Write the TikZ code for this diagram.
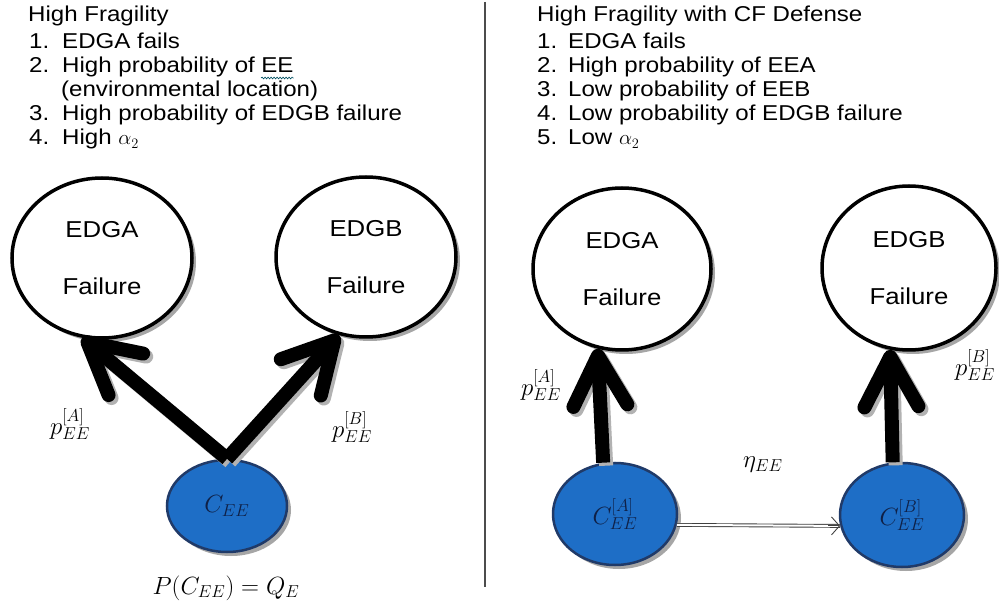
\documentclass[tikz,border=0pt]{standalone}
\usepackage{fontspec}
\setmainfont[FakeStretch=1.12]{Liberation Sans}
\usetikzlibrary{arrows.meta,shapes.geometric,shadows,decorations.pathmorphing}
\definecolor{cblue}{RGB}{30,110,198}
\definecolor{cnavy}{RGB}{32,58,104}
\definecolor{ctxt}{RGB}{15,32,70}
\begin{document}
\begin{tikzpicture}[x=1pt,y=-1pt,
  listtxt/.style={anchor=base west, inner sep=0pt, font=\fontsize{21.5}{24}\selectfont},
  failnode/.style={ellipse, draw=black, line width=3.5pt, fill=white, inner sep=0pt,
    align=center, font=\fontsize{23}{57}\selectfont,
    drop shadow={shadow xshift=4pt, shadow yshift=-4pt, fill=black!35, opacity=1}},
  causenode/.style={ellipse, draw=cnavy, line width=2.5pt, fill=cblue, inner sep=0pt,
    text=ctxt, font=\fontsize{23}{26}\selectfont,
    drop shadow={shadow xshift=4pt, shadow yshift=-4pt, fill=black!35, opacity=1}},
  bigarrow/.style={line width=14pt, -{Straight Barb[length=50pt, width=54pt, line width=14pt, round]}},
  arrowshade/.style={bigarrow, draw=black!30, transform canvas={shift={(3pt,-3pt)}}},
  mathlbl/.style={inner sep=0pt, font=\fontsize{25}{28}\selectfont},
  thinlink/.style={line width=0.9pt, draw=black!75},
]
\useasboundingbox (0,0) rectangle (999,609);
\fill[white] (0,0) rectangle (999,609);

% separator
\draw[line width=1.6pt, black!70] (485,2) -- (485,587);

% ---------- left list ----------
\node[listtxt] (lt) at (28,22) {High Fragility};
\node[listtxt] (ln1) at (29,49) {1.};
\node[listtxt] (li1) at (62,49) {EDGA fails};
\node[listtxt] (ln2) at (29,73) {2.};
\node[listtxt] (li2) at (62,73) {High probability of\kern6pt};
\node[listtxt] (lee) at (li2.base east) {EE};
\draw[green!45!blue!70!black, line width=0.6pt, decorate,
  decoration={snake, amplitude=0.9pt, segment length=3pt}]
  ([yshift=-5pt]lee.base west) -- ([yshift=-5pt]lee.base east);
\node[listtxt] (li2b) at (61,97) {(environmental location)};
\node[listtxt] (ln3) at (29,121) {3.};
\node[listtxt] (li3) at (62,121) {High probability of EDGB failure};
\node[listtxt] (ln4) at (29,145) {4.};
\node[listtxt] (li4) at (62,145) {High $\alpha_2$};

% ---------- right list ----------
\node[listtxt] (rt) at (537,22) {High Fragility with CF Defense};
\node[listtxt] (rn1) at (537,49) {1.};
\node[listtxt] (ri1) at (568,49) {EDGA fails};
\node[listtxt] (rn2) at (537,73) {2.};
\node[listtxt] (ri2) at (568,73) {High probability of EEA};
\node[listtxt] (rn3) at (537,97) {3.};
\node[listtxt] (ri3) at (568,97) {Low probability of EEB};
\node[listtxt] (rn4) at (537,121) {4.};
\node[listtxt] (ri4) at (568,121) {Low probability of EDGB failure};
\node[listtxt] (rn5) at (537,145) {5.};
\node[listtxt] (ri5) at (568,145) {Low $\alpha_2$};

% ---------- left diagram ----------
\node[failnode, minimum width=180pt, minimum height=160pt] (fa) at (102,258) {EDGA\\Failure};
\node[failnode, minimum width=180pt, minimum height=160pt] (fb) at (366,257) {EDGB\\Failure};
\node[causenode, minimum width=120pt, minimum height=92pt] (ce) at (227,506) {$C_{EE}$};

\draw[arrowshade] (ce.north) -- (fa.256);
\draw[arrowshade] (ce.north) -- (fb.251);
\draw[bigarrow] (ce.north) -- (fa.256);
\draw[bigarrow] (ce.north) -- (fb.251);

\node[mathlbl] (pa) at (70,424) {$p_{EE}^{[A]}$};
\node[mathlbl] (pb) at (352,427) {$p_{EE}^{[B]}$};
\node[mathlbl] (pq) at (226,588) {$P(C_{EE}) = Q_E$};

% ---------- right diagram ----------
\node[failnode, minimum width=178pt, minimum height=162pt] (ra) at (622,269) {EDGA\\Failure};
\node[failnode, minimum width=174pt, minimum height=164pt] (rb) at (909,268) {EDGB\\Failure};
\node[causenode, minimum width=124pt, minimum height=102pt] (ca) at (615,514) {$C_{EE}^{[A]}$};
\node[causenode, minimum width=124pt, minimum height=104pt] (cb) at (902,515) {$C_{EE}^{[B]}$};

\draw[arrowshade] (ca.103) -- (ra.253);
\draw[arrowshade] (cb.100) -- (rb.257);
\draw[bigarrow] (ca.103) -- (ra.253);
\draw[bigarrow] (cb.100) -- (rb.257);

\draw[thinlink, double=white, double distance=2pt] (ca.-10) -- (cb.190);
\draw[thinlink, -{Straight Barb[length=8pt, width=18pt]}] ([xshift=-12pt]cb.190) -- (cb.190);

\node[mathlbl] (pa2) at (541,385) {$p_{EE}^{[A]}$};
\node[mathlbl] (pb2) at (975,365) {$p_{EE}^{[B]}$};
\node[mathlbl] (eta) at (763,465) {$\eta_{EE}$};
\end{tikzpicture}
\end{document}
